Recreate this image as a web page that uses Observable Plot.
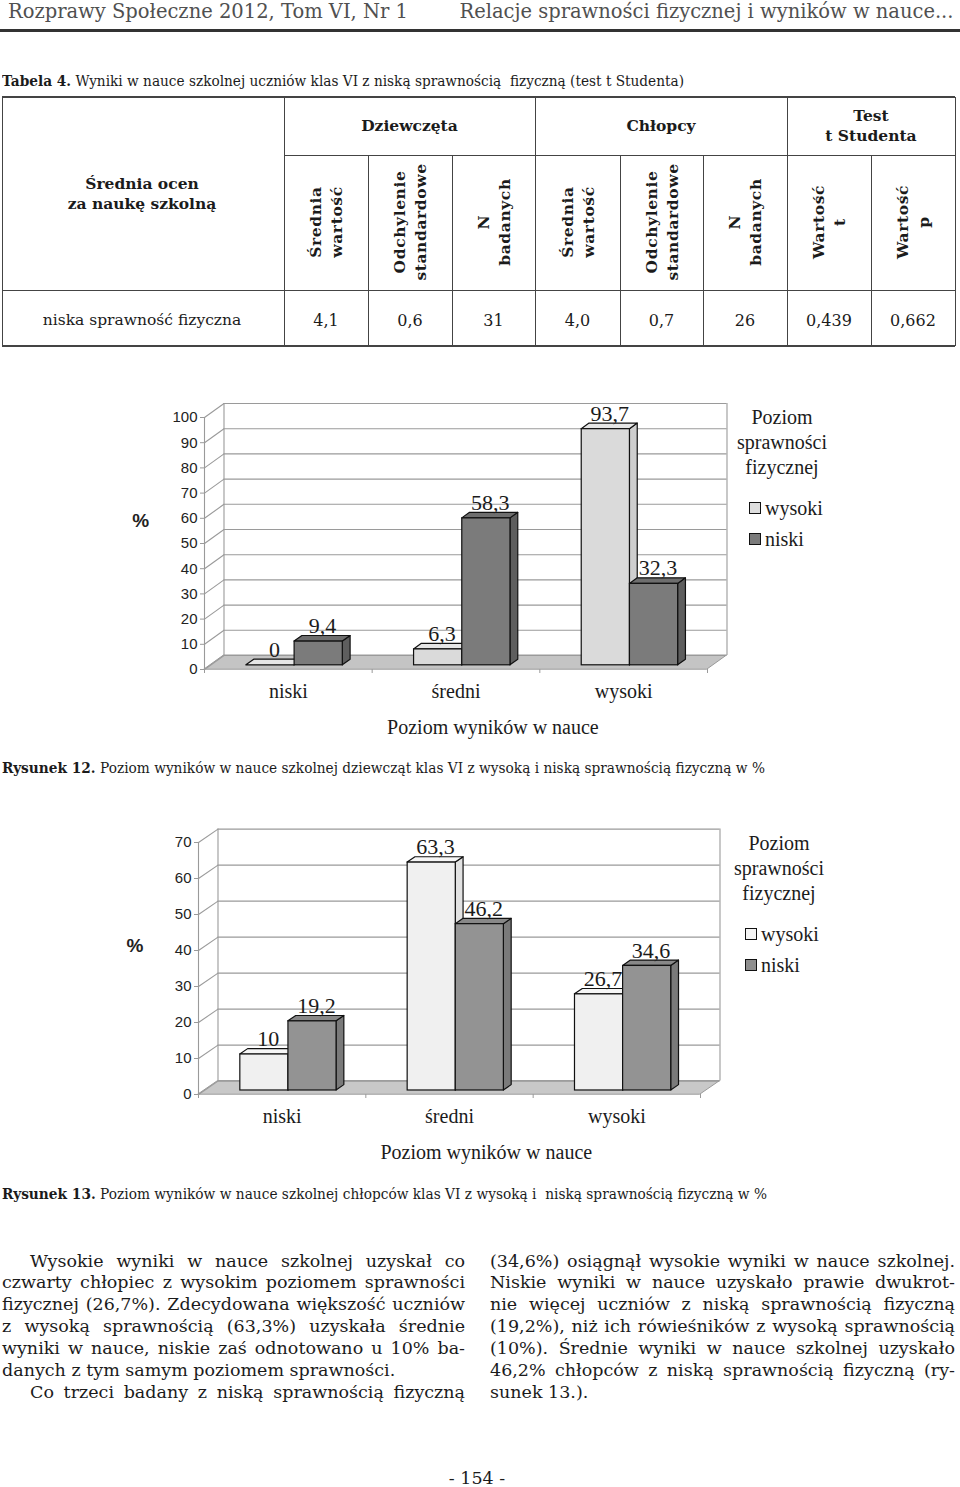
<!DOCTYPE html>
<html><head><meta charset="utf-8">
<script src="https://cdn.jsdelivr.net/npm/d3@7"></script>
<script src="https://cdn.jsdelivr.net/npm/@observablehq/plot@0.6"></script>
<style>
html,body{margin:0;padding:0;background:#fff}
body{width:960px;height:1487px;position:relative;overflow:hidden;font-family:"DejaVu Serif",serif;color:#1b1b1b}
.a{position:absolute;white-space:nowrap}
.hl{position:absolute;background:#444}
.fit{display:inline-block;transform-origin:left center}
.rot{position:absolute;transform:translate(-50%,-50%) rotate(-90deg);white-space:pre;text-align:center;font-weight:bold;font-size:15.5px;line-height:21px;letter-spacing:0.6px}
.chart{position:absolute;left:0}
.leg{position:absolute;font-family:"Liberation Serif",serif;font-size:20px;color:#1b1b1b}
.sq{position:absolute;width:10px;height:10px;border:1px solid #111}
</style></head><body>
<script>
// ---------- DATA ----------
const categories = ["niski", "średni", "wysoki"];
const seriesNames = ["wysoki", "niski"];
const girlsWysoki = [0, 6.3, 93.7];
const girlsNiski = [9.4, 58.3, 32.3];
const boysWysoki = [10, 63.3, 26.7];
const boysNiski = [19.2, 46.2, 34.6];
const girlsTicks = [0, 10, 20, 30, 40, 50, 60, 70, 80, 90, 100];
const boysTicks = [0, 10, 20, 30, 40, 50, 60, 70];
const tableGroups = ["Dziewczęta", "Chłopcy", "Test\nt Studenta"];
const tableSubHeaders = ["Średnia\nwartość", "Odchylenie\nstandardowe", "N\nbadanych", "Średnia\nwartość", "Odchylenie\nstandardowe", "N\nbadanych", "Wartość\nt", "Wartość\np"];
const tableCorner = "Średnia ocen\nza naukę szkolną";
const tableRowLabel = "niska sprawność fizyczna";
const tableValues = ["4,1", "0,6", "31", "4,0", "0,7", "26", "0,439", "0,662"];
const legendTitle = "Poziom\nsprawności\nfizycznej";
const xTitle = "Poziom wyników w nauce";

// ---------- PAGE TEXT ----------
const B = document.body;
function el(tag, cls, css, html) { const e = document.createElement(tag); if (cls) e.className = cls; Object.assign(e.style, css || {}); if (html != null) e.innerHTML = html; B.appendChild(e); return e; }
const toFit = [];
function line(text, x, cy, size, opts = {}) {
  const lh = Math.round(size * 1.3);
  const d = el("div", "a", {left: x + "px", top: (cy - lh / 2) + "px", fontSize: size + "px", lineHeight: lh + "px", color: opts.color || "#1b1b1b", fontWeight: opts.bold ? "bold" : "normal"});
  const s = document.createElement("span"); s.className = "fit"; s.innerHTML = text; d.appendChild(s);
  if (opts.target) toFit.push({s, target: opts.target, mode: opts.mode || "scale"});
  if (opts.anchor === "right") { d.style.left = "auto"; d.style.right = (960 - x) + "px"; s.style.transformOrigin = "right center"; }
  if (opts.anchor === "center") { d.style.transform = "translateX(-50%)"; s.style.transformOrigin = "center center"; }
  return d;
}
// header
line("Rozprawy Społeczne 2012, Tom VI, Nr 1", 8, 11, 19.5, {color: "#505050", target: 400});
line("Relacje sprawności fizycznej i wyników w nauce...", 953, 11, 19.5, {color: "#505050", target: 494, anchor: "right"});
el("div", "hl", {left: "0px", top: "29px", width: "960px", height: "2.5px", background: "#333"});
// captions
line("<b>Tabela 4.</b> Wyniki w nauce szkolnej uczniów klas VI z niską sprawnością&nbsp; fizyczną (test t Studenta)", 2, 81, 14, {target: 682});
line("<b>Rysunek 12.</b> Poziom wyników w nauce szkolnej dziewcząt klas VI z wysoką i niską sprawnością fizyczną w %", 2, 768, 14, {target: 763});
line("<b>Rysunek 13.</b> Poziom wyników w nauce szkolnej chłopców klas VI z wysoką i&nbsp; niską sprawnością fizyczną w %", 2, 1194, 14, {target: 765});

// ---------- TABLE ----------
const T = {top: 97, r1: 155, r2: 290, bot: 346, left: 2, right: 955};
const cols = [284, 368, 452, 535, 620, 703, 787, 871, 955];
function hline(x1, x2, y, w) { el("div", "hl", {left: x1 + "px", top: (y - w / 2) + "px", width: (x2 - x1) + "px", height: w + "px"}); }
function vline(x, y1, y2) { el("div", "hl", {left: (x - 0.5) + "px", top: y1 + "px", width: "1px", height: (y2 - y1) + "px"}); }
hline(T.left, T.right, T.top, 1.6); hline(cols[0], T.right, T.r1, 1); hline(T.left, T.right, T.r2, 1); hline(T.left, T.right, T.bot, 1.6);
[T.left, cols[0], cols[3], cols[6], T.right].forEach(x => vline(x, T.top, T.bot));
[cols[1], cols[2], cols[4], cols[5], cols[7]].forEach(x => vline(x, T.r1, T.bot));
function ctext(text, cx, cy, size, bold, lh) {
  const h = lh || Math.round(size * 1.3);
  const n = text.split("\n").length;
  return el("div", "a", {left: (cx - 150) + "px", width: "300px", top: (cy - h * n / 2) + "px", fontSize: size + "px", lineHeight: h + "px", textAlign: "center", whiteSpace: "pre", fontWeight: bold ? "bold" : "normal"}, text);
}
ctext(tableCorner, 142, 194, 15.5, true, 20);
const groupSpans = [[0, 3], [3, 6], [6, 8]];
tableGroups.forEach((g, i) => { const [a, b] = groupSpans[i]; ctext(g, (cols[a] + cols[b]) / 2, 126, 15.5, true, 20); });
tableSubHeaders.forEach((h, i) => { const cx = (cols[i] + cols[i + 1]) / 2; el("div", "rot", {left: cx + "px", top: "222px"}, h); });
ctext(tableRowLabel, 142, 320, 15.5, false);
tableValues.forEach((v, i) => ctext(v, (cols[i] + cols[i + 1]) / 2, 320, 16, false));

// ---------- BODY TEXT ----------
const bodyLeft = [
  "Wysokie wyniki w nauce szkolnej uzyskał co",
  "czwarty chłopiec z wysokim poziomem sprawności",
  "fizycznej (26,7%). Zdecydowana większość uczniów",
  "z wysoką sprawnością (63,3%) uzyskała średnie",
  "wyniki w nauce, niskie zaś odnotowano u 10% ba-",
  "danych z tym samym poziomem sprawności.",
  "Co trzeci badany z niską sprawnością fizyczną"];
const bodyRight = [
  "(34,6%) osiągnął wysokie wyniki w nauce szkolnej.",
  "Niskie wyniki w nauce uzyskało prawie dwukrot-",
  "nie więcej uczniów z niską sprawnością fizyczną",
  "(19,2%), niż ich rówieśników z wysoką sprawnością",
  "(10%). Średnie wyniki w nauce szkolnej uzyskało",
  "46,2% chłopców z niską sprawnością fizyczną (ry-",
  "sunek 13.)."];
const indentLeft = [true, false, false, false, false, false, true];
const justLeft = [true, true, true, true, true, false, true];
const justRight = [true, true, true, true, true, true, false];
bodyLeft.forEach((t, k) => { const x = indentLeft[k] ? 30 : 2; line(t, x, 1261 + k * 21.9, 17.5, justLeft[k] ? {target: 465 - x, mode: "justify"} : {}); });
bodyRight.forEach((t, k) => { line(t, 490, 1261 + k * 21.9, 17.5, justRight[k] ? {target: 465, mode: "justify"} : {}); });
line("- 154 -", 477, 1478, 17.5, {anchor: "center"});

// ---------- CHARTS ----------
function chart3d({wys, nis, ticks, yMax, mL, mR, depth, col, top}) {
  const W = 960, H = 350, mT = 22, mB = 76, n = categories.length;
  const pxX = (W - mL - mR) / n, pxY = (H - mT - mB) / yMax;
  const DX = depth[0] / pxX, DY = depth[1] / pxY;
  const zF = 0.3, zB = 0.7, g0 = 0.215, bw = 0.2875;
  const bars = [];
  [wys, nis].forEach((arr, s) => arr.forEach((v, i) => { const x0 = i + g0 + s * bw; bars.push({id: s + "-" + i, s, v, x0, x1: x0 + bw}); }));
  const side = bars.flatMap(b => [
    {id: b.id, s: b.s, x: b.x1 + zF * DX, y1: zF * DY, y2: b.v + zF * DY},
    {id: b.id, s: b.s, x: b.x1 + zB * DX, y1: zB * DY, y2: b.v + zB * DY}]);
  const topF = bars.flatMap(b => [
    {id: b.id, s: b.s, y: b.v + zF * DY, x1: b.x0 + zF * DX, x2: b.x1 + zF * DX},
    {id: b.id, s: b.s, y: b.v + zB * DY, x1: b.x0 + zB * DX, x2: b.x1 + zB * DX}]);
  const sw = 1.2, sk = "#111";
  const barMarks = [0, 1].flatMap(s => [
    Plot.area(side.filter(d => d.s === s), {x1: "x", y1: "y1", y2: "y2", z: "id", fill: col.side[s], stroke: sk, strokeWidth: sw}),
    Plot.area(topF.filter(d => d.s === s), {y1: "y", x1: "x1", x2: "x2", z: "id", fill: col.top[s], stroke: sk, strokeWidth: sw}),
    Plot.rect(bars.filter(d => d.s === s), {x1: d => d.x0 + zF * DX, x2: d => d.x1 + zF * DX, y1: () => zF * DY, y2: d => d.v + zF * DY, fill: col.front[s], stroke: sk, strokeWidth: sw})
  ]);
  const g = "#9a9a9a";
  const floor = [{y: 0, x1: 0, x2: n}, {y: DY, x1: DX, x2: n + DX}];
  const svg = Plot.plot({
    width: W, height: H, marginLeft: mL, marginRight: mR, marginTop: mT, marginBottom: mB,
    x: {type: "linear", domain: [0, n], axis: null},
    y: {domain: [0, yMax]},
    style: {background: "transparent", overflow: "visible", fontFamily: "Liberation Serif"},
    marks: [
      Plot.area(floor, {y1: "y", x1: "x1", x2: "x2", fill: col.floor, stroke: g}),
      Plot.ruleY(ticks, {y: t => t + DY, x1: () => DX, x2: () => n + DX, stroke: g, strokeWidth: 1.1}),
      Plot.ruleX([DX, n + DX], {x: d => d, y1: () => DY, y2: () => yMax + DY, stroke: g, strokeWidth: 1.1}),
      Plot.link(ticks, {x1: () => 0, y1: t => t, x2: () => DX, y2: t => t + DY, stroke: g, strokeWidth: 1.1}),
      Plot.ruleX([0], {y1: () => 0, y2: () => yMax, stroke: g, strokeWidth: 1.1}),
      Plot.ruleX(d3.range(n + 1), {x: d => d, y1: () => 0, y2: () => -4 / pxY, stroke: g}),
      Plot.axisY({ticks, tickSize: 4, tickPadding: 3, fontSize: 15, fontFamily: "Liberation Sans", stroke: g, fill: "#222", label: null, tickFormat: d => String(d)}),
      ...barMarks,
      Plot.text(bars, {x: d => (d.x0 + d.x1) / 2 + 0.5 * DX, y: d => d.v + zB * DY, text: d => String(d.v).replace(".", ","), lineAnchor: "bottom", dy: -3, fontSize: 22, fontFamily: "Liberation Serif", fill: "#1b1b1b"}),
      Plot.text(categories, {x: (d, i) => i + 0.5, y: () => 0, text: d => d, dy: 22, fontSize: 20, fontFamily: "Liberation Serif", fill: "#1b1b1b"}),
      Plot.text([xTitle], {x: () => 1.72, y: () => 0, text: d => d, dy: 58, fontSize: 20, fontFamily: "Liberation Serif", fill: "#1b1b1b"}),
      Plot.text(["%"], {x: () => -0.38, y: () => 0.59 * yMax, text: d => d, fontSize: 19, fontWeight: "bold", fontFamily: "Liberation Sans", fill: "#222"})
    ]
  });
  const wrap = el("div", "chart", {top: top + "px"});
  wrap.appendChild(svg);
  return wrap;
}
chart3d({wys: girlsWysoki, nis: girlsNiski, ticks: girlsTicks, yMax: 100, mL: 204, mR: 960 - 707, depth: [19.5, 14], top: 395,
  col: {front: ["#dadada", "#7b7b7b"], top: ["#e6e6e6", "#6e6e6e"], side: ["#cfcfcf", "#5e5e5e"], floor: "#c4c4c4"}});
chart3d({wys: boysWysoki, nis: boysNiski, ticks: boysTicks, yMax: 70, mL: 198, mR: 960 - 700, depth: [19.5, 13.4], top: 820,
  col: {front: ["#f0f0f0", "#939393"], top: ["#f6f6f6", "#888888"], side: ["#e2e2e2", "#7a7a7a"], floor: "#c8c8c8"}});

// legends
function legend(cx, cy0, sqX, itemY, colors) {
  el("div", "leg", {left: (cx - 70) + "px", width: "140px", top: (cy0 - 12.5) + "px", lineHeight: "25px", textAlign: "center", whiteSpace: "pre"}, legendTitle);
  seriesNames.forEach((s, i) => {
    el("div", "sq", {left: sqX + "px", top: (itemY[i] - 6) + "px", background: colors[i]});
    el("div", "leg", {left: (sqX + 16) + "px", top: (itemY[i] - 12.5) + "px", lineHeight: "25px"}, s);
  });
}
legend(782, 417, 749, [508, 539], ["#dedede", "#7b7b7b"]);
legend(779, 843, 745, [934, 965], ["#f4f4f4", "#8e8e8e"]);

// ---------- FIT TEXT WIDTHS ----------
function doFit() {
  toFit.forEach(({s, target, mode}) => {
    s.style.transform = "none";
    if (mode === "justify") {
      s.style.wordSpacing = "0px";
      const w = s.getBoundingClientRect().width;
      const sp = (s.textContent.match(/ /g) || []).length;
      let ws = sp ? (target - w) / sp : 0;
      if (ws < -1.5) ws = -1.5;
      s.style.wordSpacing = ws + "px";
      const w2 = s.getBoundingClientRect().width;
      if (w2 > target + 0.5) s.style.transform = `scaleX(${target / w2})`;
    } else {
      const w = s.getBoundingClientRect().width;
      s.style.transform = `scaleX(${target / w})`;
    }
  });
}
doFit();
if (document.fonts && document.fonts.ready) document.fonts.ready.then(doFit);
</script>
</body></html>
